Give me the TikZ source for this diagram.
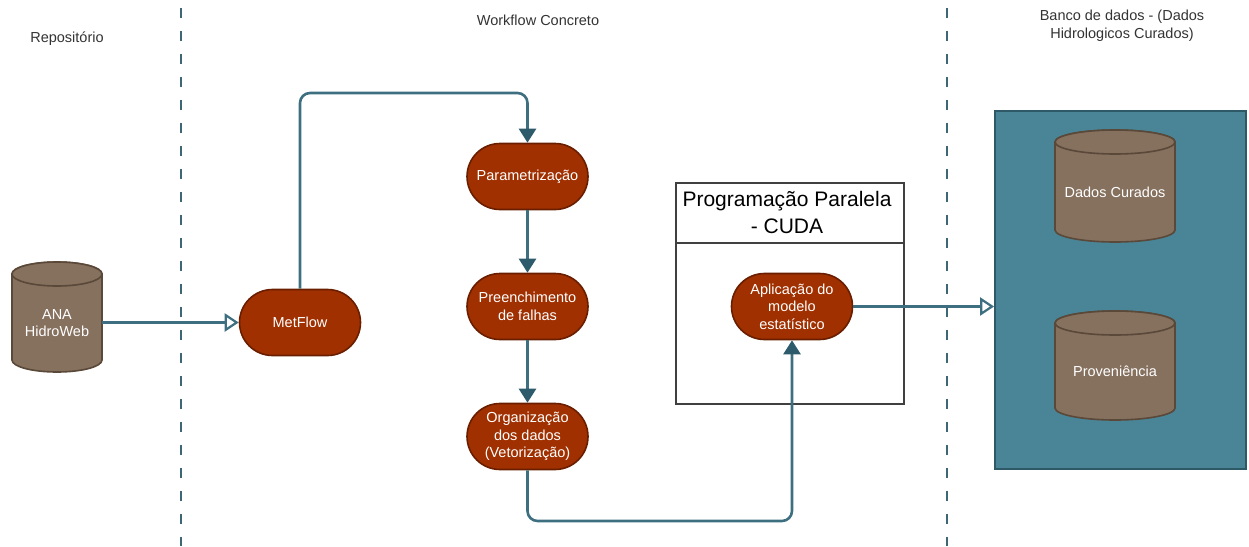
\documentclass[tikz,border=0pt]{standalone}
\usepackage{fontspec}
\setmainfont{Liberation Sans}
\usetikzlibrary{arrows.meta}

\definecolor{flowline}{HTML}{3E6F80}
\definecolor{flowtip}{HTML}{2E5B6B}
\definecolor{stepfill}{HTML}{A03000}
\definecolor{stepborder}{HTML}{6A1E00}
\definecolor{dbfill}{HTML}{86705E}
\definecolor{dbborder}{HTML}{5A4838}
\definecolor{storefill}{HTML}{4A8597}
\definecolor{storeborder}{HTML}{2E5A68}
\definecolor{lanecol}{HTML}{3D6775}

\tikzset{
  lane/.style={draw=lanecol, line width=2.6pt, dash pattern=on 10pt off 13pt},
  lanelabel/.style={font=\fontsize{14.5}{18}\selectfont, text=black!80, align=center, inner sep=0},
  stepbox/.style={draw=stepborder, fill=stepfill, line width=1.6pt, rounded corners=33pt,
    minimum width=121pt, minimum height=66pt, inner sep=2pt, text=white, align=center,
    font=\fontsize{14.5}{17.5}\selectfont},
  dbarea/.style={draw=none, minimum width=#1, inner sep=0},
  dbbody/.style={fill=dbfill, draw=dbborder, line width=1.6pt},
  dbtext/.style={text=white, align=center, font=\fontsize{14.5}{17.5}\selectfont, inner sep=0},
  flow/.style={draw=flowline, line width=2.6pt, rounded corners=10pt,
    -{Triangle[length=14pt, width=17pt, color=flowtip]}},
  openflow/.style={draw=flowline, line width=2.6pt,
    -{Triangle[length=14pt, width=18pt, fill=white, color=flowline, line width=2.2pt]}},
}

% database cylinder: name, centre x, top y, bottom y, half width, text
\newcommand\dbcylinder[6]{%
  \path[dbbody] (#2-#5,#3+12) -- (#2-#5,#4-12)
     arc[start angle=180, end angle=0, x radius=#5, y radius=12]
     -- (#2+#5,#3+12)
     arc[start angle=0, end angle=-180, x radius=#5, y radius=12] -- cycle;
  \path[dbbody] (#2,#3+12) ellipse[x radius=#5, y radius=12];
  \node[dbarea=2*#5, minimum height=#4-#3] (#1) at (#2,{(#3+#4)/2}) {};
  \node[dbtext] (#1-t) at (#2,{(#3+#4)/2+6}) {#6};
}

\begin{document}
\begin{tikzpicture}[x=1pt, y=-1pt]
\useasboundingbox (0,0) rectangle (1249,546);

% swimlane separators and headings
\draw[lane] (181,8) -- (181,546);
\draw[lane] (947,8) -- (947,546);
\node[lanelabel] (lrepo) at (67,39) {Repositório};
\node[lanelabel] (lwork) at (538,20) {Workflow Concreto};
\node[lanelabel] (lbank) at (1122,26) {Banco de dados - (Dados\\Hidrologicos Curados)};

% data source
\dbcylinder{ana}{57}{262}{372}{45}{ANA\\HidroWeb}

% CUDA container
\node[draw=black!75, line width=1.6pt, minimum width=228pt, minimum height=221pt, inner sep=0,
      fill=white] (cuda) at (790,293.5) {};
\draw[black!75, line width=1.6pt] (676,243) -- (904,243);
\node[font=\fontsize{21}{27}\selectfont, align=center, inner sep=0] (cudat) at (787,212)
  {Programação Paralela\\- CUDA};

% curated data store
\node[draw=storeborder, fill=storefill, line width=1.8pt, minimum width=251pt, minimum height=358pt,
      inner sep=0] (store) at (1120.5,290) {};
\dbcylinder{curados}{1115}{130}{242}{60}{Dados Curados}
\dbcylinder{prov}{1115}{311}{420}{60}{Proveniência}

% workflow steps
\node[stepbox] (metflow) at (300,322.5) {MetFlow};
\node[stepbox] (param) at (527.5,176.5) {Parametrização};
\node[stepbox] (preench) at (527.5,306.5) {Preenchimento\\de falhas};
\node[stepbox] (organiz) at (527.5,436.5) {Organização\\dos dados\\(Vetorização)};
\node[stepbox] (aplic) at (792,306.5) {Aplicação do\\modelo\\estatístico};

% connectors
\draw[openflow] (ana.east |- metflow) -- (metflow.west);
\draw[flow] (metflow.north) -- (300,93) -- (527.5,93) -- (param.north);
\draw[flow] (param) -- (preench);
\draw[flow] (preench) -- (organiz);
\draw[flow] (organiz.south) -- (527.5,521) -- (792,521) -- (aplic.south);
\draw[openflow] (aplic.east) -- (store.west |- aplic.east);
\end{tikzpicture}
\end{document}
